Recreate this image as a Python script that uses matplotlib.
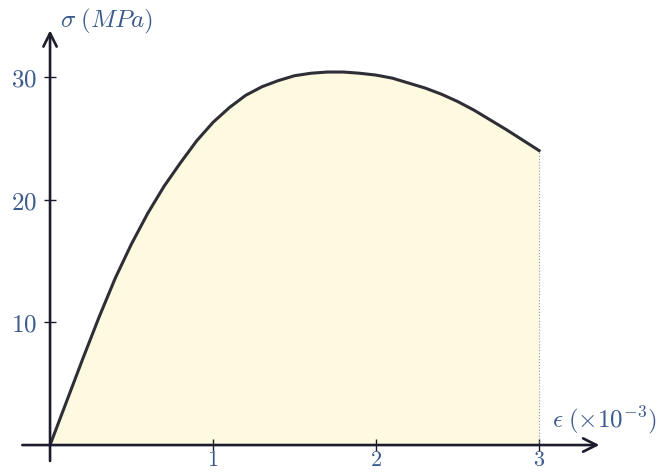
import matplotlib
matplotlib.use("Agg")
import matplotlib.pyplot as plt

plt.rcParams['mathtext.fontset'] = 'cm'

# stress-strain curve
strain = [0, 0.1, 0.2, 0.3, 0.4, 0.5, 0.6, 0.7, 0.8, 0.9, 1.0, 1.1, 1.2, 1.3,
          1.4, 1.5, 1.6, 1.7, 1.8, 1.9, 2.0, 2.1, 2.2, 2.3, 2.4, 2.5, 2.6,
          2.7, 2.8, 2.9, 3.0]
stress = [0, 3.5, 7.0, 10.4, 13.6, 16.4, 18.9, 21.1, 23.0, 24.8, 26.3, 27.5,
          28.5, 29.2, 29.7, 30.1, 30.3, 30.4, 30.4, 30.3, 30.15, 29.9, 29.5,
          29.1, 28.6, 28.0, 27.3, 26.5, 25.7, 24.85, 24.0]

xticks = [1, 2, 3]
yticks = [10, 20, 30]

axis_col = '#1c1c2c'
label_col = '#3b5a8c'

fig = plt.figure(figsize=(6.6, 4.74), dpi=100)
ax = fig.add_axes([0, 0, 1, 1])
ax.set_xlim(-0.307, 3.742)
ax.set_ylim(-2.36, 36.27)

# filled area under the curve
ax.fill_between(strain, stress, 0, color='#fdfae0', lw=0, zorder=1)
ax.plot(strain, stress, color='#2e2e36', lw=2.2, zorder=3,
        solid_joinstyle='round')
ax.plot([3, 3], [0, stress[-1]], color='#9a9a9a', lw=0.8, ls=':', zorder=2)

# axes through the origin with arrow heads
for s in ['top', 'right']:
    ax.spines[s].set_visible(False)
ax.spines['left'].set_position(('data', 0))
ax.spines['bottom'].set_position(('data', 0))
ax.spines['left'].set_visible(False)
ax.spines['bottom'].set_visible(False)

arrow = dict(arrowstyle='->', lw=1.9, color=axis_col, shrinkA=0, shrinkB=0,
             mutation_scale=24)
ax.annotate('', xy=(3.37, 0), xytext=(-0.17, 0), arrowprops=arrow, zorder=4)
ax.annotate('', xy=(0, 33.8), xytext=(0, -1.3), arrowprops=arrow, zorder=4)

ax.set_xticks(xticks)
ax.set_xticklabels(['$%d$' % t for t in xticks])
ax.set_yticks(yticks)
ax.set_yticklabels(['$%d$' % t for t in yticks])
ax.tick_params(direction='inout', length=9, width=1.0, color=axis_col,
               labelsize=18, labelcolor=label_col)
ax.tick_params(axis='x', pad=-1, labelsize=16)
ax.tick_params(axis='y', pad=5)

ax.text(0.06, 34.5, r'$\sigma\;(MPa)$', fontsize=18, color=label_col,
        va='center', ha='left')
ax.text(3.08, 2.0, r'$\epsilon\;(\times 10^{-3})$', fontsize=18,
        color=label_col, va='center', ha='left')

fig.savefig('out.png', dpi=100)
